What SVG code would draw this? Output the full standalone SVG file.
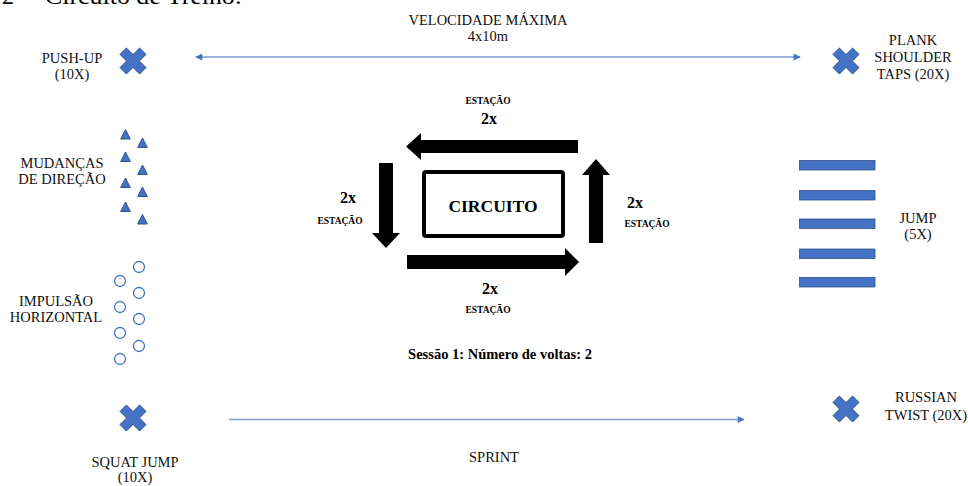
<svg xmlns="http://www.w3.org/2000/svg" width="968" height="486" viewBox="0 0 968 486">
<style>
.t{font-family:"Liberation Serif","Times New Roman",serif;font-size:14.5px;fill:#111;text-anchor:middle}
.b{font-family:"Liberation Serif","Times New Roman",serif;font-weight:bold;fill:#000;text-anchor:middle}
.sym{fill:#4472C4;stroke:#2F528F;stroke-width:1}
.circ{fill:#fff;stroke:#4472C4;stroke-width:1.3}
.bar{fill:#4472C4;stroke:#2F528F;stroke-width:0.8}
.arr{fill:#000}
.conn{stroke:#7B9BD6;stroke-width:1.3;fill:none}
</style>
<defs>
<marker id="ah" viewBox="0 0 10 10" refX="9" refY="5" markerWidth="9" markerHeight="7" markerUnits="userSpaceOnUse" orient="auto-start-reverse">
<path d="M0,0 L10,5 L0,10 z" fill="#4472C4"/>
</marker>
<path id="cross" d="M-6.6,-13 L0,-6.4 L6.6,-13 L13,-6.6 L6.4,0 L13,6.6 L6.6,13 L0,6.4 L-6.6,13 L-13,6.6 L-6.4,0 L-13,-6.6 Z"/>
<path id="tri" d="M0,-5 L4.8,4.5 L-4.8,4.5 Z"/>
</defs>
<rect width="968" height="486" fill="#fff"/>

<g id="heading">
<text x="2" y="4" style="font-family:'Liberation Serif',serif;font-size:24px;fill:#000">2</text>
<text x="45" y="4" textLength="197" lengthAdjust="spacingAndGlyphs" style="font-family:'Liberation Serif',serif;font-size:24px;fill:#000">Circuito de Treino:</text>
</g>

<g id="connectors">
<line class="conn" x1="196" y1="57" x2="800" y2="57" marker-start="url(#ah)" marker-end="url(#ah)"/>
<line class="conn" x1="229" y1="419.5" x2="744" y2="419.5" marker-end="url(#ah)"/>
</g>

<g id="velocidade">
<text class="t" x="488" y="25">VELOCIDADE MÁXIMA</text>
<text class="t" x="488" y="41">4x10m</text>
</g>

<g id="push-up">
<use href="#cross" class="sym" x="133" y="61"/>
<text class="t" x="72" y="63">PUSH-UP</text>
<text class="t" x="72" y="79">(10X)</text>
</g>

<g id="plank">
<use href="#cross" class="sym" x="846" y="61"/>
<text class="t" x="913" y="45">PLANK</text>
<text class="t" x="913" y="62">SHOULDER</text>
<text class="t" x="913" y="79">TAPS (20X)</text>
</g>

<g id="mudancas">
<use href="#tri" class="sym" x="125.5" y="134.5"/>
<use href="#tri" class="sym" x="125.5" y="157"/>
<use href="#tri" class="sym" x="125.5" y="183"/>
<use href="#tri" class="sym" x="125.5" y="207"/>
<use href="#tri" class="sym" x="142.5" y="143"/>
<use href="#tri" class="sym" x="142.5" y="170"/>
<use href="#tri" class="sym" x="142.5" y="192"/>
<use href="#tri" class="sym" x="142.5" y="219.5"/>
<text class="t" x="62" y="168">MUDANÇAS</text>
<text class="t" x="62" y="184">DE DIREÇÃO</text>
</g>

<g id="impulsao">
<circle class="circ" cx="139" cy="267" r="5.5"/>
<circle class="circ" cx="139" cy="293" r="5.5"/>
<circle class="circ" cx="139" cy="319" r="5.5"/>
<circle class="circ" cx="139" cy="346" r="5.5"/>
<circle class="circ" cx="120" cy="281" r="5.5"/>
<circle class="circ" cx="120" cy="307" r="5.5"/>
<circle class="circ" cx="120" cy="333" r="5.5"/>
<circle class="circ" cx="120" cy="359" r="5.5"/>
<text class="t" x="56" y="306">IMPULSÃO</text>
<text class="t" x="56" y="322">HORIZONTAL</text>
</g>

<g id="squat-jump">
<use href="#cross" class="sym" x="133" y="418"/>
<text class="t" x="135" y="467">SQUAT JUMP</text>
<text class="t" x="135" y="482">(10X)</text>
</g>

<g id="sprint">
<text class="t" x="494" y="462">SPRINT</text>
</g>

<g id="russian-twist">
<use href="#cross" class="sym" x="846" y="409"/>
<text class="t" x="926" y="402">RUSSIAN</text>
<text class="t" x="926" y="420">TWIST (20X)</text>
</g>

<g id="jump">
<rect class="bar" x="799.5" y="160.5" width="75.5" height="9.5"/>
<rect class="bar" x="799.5" y="190.5" width="75.5" height="9.5"/>
<rect class="bar" x="799.5" y="219" width="75.5" height="9.5"/>
<rect class="bar" x="799.5" y="249" width="75.5" height="9.5"/>
<rect class="bar" x="799.5" y="277.5" width="75.5" height="9.5"/>
<text class="t" x="918" y="223">JUMP</text>
<text class="t" x="918" y="239">(5X)</text>
</g>

<g id="circuito">
<rect x="424" y="172" width="139" height="64" rx="2" fill="#fff" stroke="#000" stroke-width="4"/>
<text class="b" x="493" y="212" style="font-size:17.5px">CIRCUITO</text>
</g>

<g id="circuit-arrows">
<polygon class="arr" points="578,140 421,140 421,133 406,146.5 421,160 421,153 578,153"/>
<polygon class="arr" points="379,163 393,163 393,233 400,233 386,248 372,233 379,233"/>
<polygon class="arr" points="407,255 565,255 565,248 579,262 565,276 565,269 407,269"/>
<polygon class="arr" points="589,243 589,175 582,175 596,159 610,175 603,175 603,243"/>
</g>

<g id="estacao-top">
<text class="b" x="488" y="104" style="font-size:9.5px">ESTAÇÃO</text>
<text class="b" x="489" y="124" style="font-size:16px">2x</text>
</g>
<g id="estacao-left">
<text class="b" x="348" y="203" style="font-size:16px">2x</text>
<text class="b" x="340" y="224" style="font-size:9.5px">ESTAÇÃO</text>
</g>
<g id="estacao-right">
<text class="b" x="635" y="208" style="font-size:16px">2x</text>
<text class="b" x="647" y="227" style="font-size:9.5px">ESTAÇÃO</text>
</g>
<g id="estacao-bottom">
<text class="b" x="490" y="294" style="font-size:16px">2x</text>
<text class="b" x="488" y="313" style="font-size:9.5px">ESTAÇÃO</text>
</g>

<g id="sessao">
<text class="b" x="500" y="359" style="font-size:14.5px">Sessão 1: Número de voltas: 2</text>
</g>
</svg>
